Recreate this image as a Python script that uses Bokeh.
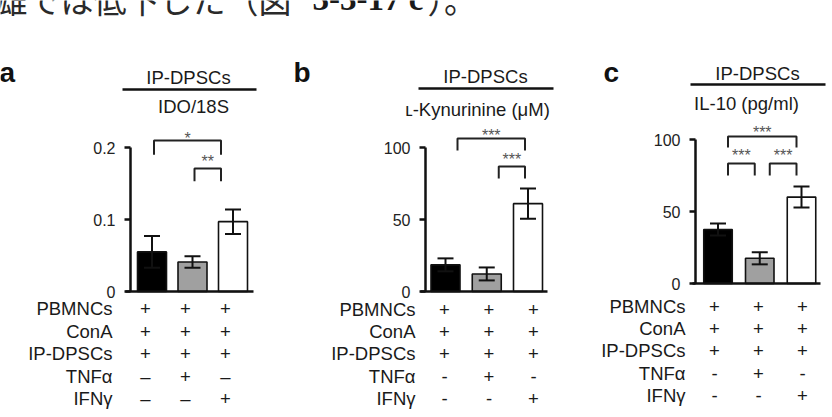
from bokeh.plotting import figure
from bokeh.models import Range1d, LinearAxis, FixedTicker
from bokeh.embed import file_html
from bokeh.resources import INLINE
from bokeh.core.properties import value

# ---------------- data ----------------
row_labels = ["PBMNCs", "ConA", "IP-DPSCs", "TNFα", "IFNγ"]
signs_a = [["+", "+", "+"], ["+", "+", "+"], ["+", "+", "+"], ["–", "+", "–"], ["–", "–", "+"]]
signs_b = [["+", "+", "+"], ["+", "+", "+"], ["+", "+", "+"], ["-", "+", "-"], ["-", "-", "+"]]
signs_c = [["+", "+", "+"], ["+", "+", "+"], ["+", "+", "+"], ["-", "+", "-"], ["-", "-", "+"]]

ido_mean = [0.055, 0.041, 0.097]
ido_err = [0.022, 0.008, 0.017]
kyn_mean = [18.5, 12.2, 61.0]
kyn_err = [4.5, 4.5, 10.5]
il10_mean = [37.5, 17.5, 60.0]
il10_err = [4.2, 4.2, 7.3]

ticks_a = [0, 0.1, 0.2]
tick_labels_a = ["0", "0.1", "0.2"]
ticks_b = [0, 50, 100]
tick_labels_b = ["0", "50", "100"]
ticks_c = [0, 50, 100]
tick_labels_c = ["0", "50", "100"]

# significance brackets: (group i, group j, bracket top, leg end, star level, label)
sig_a = [(0, 2, 0.2097, 0.190, 0.2167, "*"), (1, 2, 0.171, 0.153, 0.185, "**")]
sig_b = [(0, 2, 106.3, 97.9, 110.4, "***"), (1, 2, 86.8, 78.5, 93.8, "***")]
sig_c = [(0, 2, 102.1, 94.4, 107.0, "***"), (0, 1, 83.3, 75.0, 91.0, "***"),
         (1, 2, 83.3, 75.0, 91.0, "***")]

group_label = "IP-DPSCs"
measure_a = "IDO/18S"
measure_b = "ʟ-Kynurinine (μM)"
measure_c = "IL-10 (pg/ml)"
letters = ["a", "b", "c"]
bar_colors = ["#000000", "#a0a0a0", "#ffffff"]

intro_jp = "雄では低下した（図 "
intro_ref = "3-3-17 c"
intro_end = "）。"

# ---------------- layout ----------------
W, H = 832, 417
SANS = value("Liberation Sans")
INK = "#1a1a1a"
FS = "18.5px"

panels = [
    dict(key="a", mean=ido_mean, err=ido_err, ticks=ticks_a, tlabels=tick_labels_a,
         signs=signs_a, sig=sig_a, measure=measure_a, letter=letters[0],
         zero_px=291, ppu=720.0, axis_x=130, top=0.2, bar_x0=151.5, bar_dx=40.5, bar_w=29,
         base=(125, 253), head_cx=188, head_y=76.5, line=(122, 256, 89), sub_cx=193, sub_y=106,
         letter_xy=(-1, 72), label_right=112, sign_x0=145, sign_dx=40, row_y0=308.3,
         br_off=(2, -12)),
    dict(key="b", mean=kyn_mean, err=kyn_err, ticks=ticks_b, tlabels=tick_labels_b,
         signs=signs_b, sig=sig_b, measure=measure_b, letter=letters[1],
         zero_px=291, ppu=1.44, axis_x=425, top=100, bar_x0=445, bar_dx=41.25, bar_w=29,
         base=(420, 547), head_cx=485, head_y=76, line=(418, 553, 88), sub_cx=477, sub_y=109,
         letter_xy=(293, 72), label_right=415, sign_x0=444, sign_dx=44.5, row_y0=308.5,
         br_off=(12, -3)),
    dict(key="c", mean=il10_mean, err=il10_err, ticks=ticks_c, tlabels=tick_labels_c,
         signs=signs_c, sig=sig_c, measure=measure_c, letter=letters[2],
         zero_px=283, ppu=1.44, axis_x=695, top=100, bar_x0=717.5, bar_dx=41.75, bar_w=28.5,
         base=(692, 820), head_cx=757, head_y=73, line=(690, 825, 84), sub_cx=746, sub_y=103,
         letter_xy=(603, 72), label_right=685, sign_x0=714, sign_dx=44, row_y0=305.5,
         br_off=(10, -5)),
]
ROW_DY = 22.4

p = figure(width=W, height=H, x_range=Range1d(0, W), y_range=Range1d(H, 0),
           x_axis_type=None, y_axis_type=None, toolbar_location=None,
           output_backend="svg", min_border=0, outline_line_color=None)
p.background_fill_color = "white"
p.border_fill_color = "white"

# intro line (cut at the top edge, as in the source page)
p.text(x=[-6], y=[-2], text=[intro_jp], text_font=value("Noto Sans CJK JP"),
       text_font_size="33px", text_color="#2a2a2a", text_baseline="middle")
p.text(x=[312], y=[-2], text=[intro_ref], text_font=value("Liberation Serif"),
       text_font_style="bold", text_font_size="33px", text_color="#1a1a1a",
       text_baseline="middle")
p.text(x=[427], y=[-2], text=[intro_end], text_font=value("Noto Sans CJK JP"),
       text_font_size="33px", text_color="#2a2a2a", text_baseline="middle")

for P in panels:
    k = P["key"]
    start = (P["zero_px"] - H) / P["ppu"]
    end = P["zero_px"] / P["ppu"]
    p.extra_y_ranges[k] = Range1d(start, end)

    n = len(P["mean"])
    xs = [P["bar_x0"] + i * P["bar_dx"] for i in range(n)]
    lo = [m - e for m, e in zip(P["mean"], P["err"])]
    hi = [m + e for m, e in zip(P["mean"], P["err"])]

    # bars
    p.vbar(x=xs, width=P["bar_w"], bottom=0, top=P["mean"], fill_color=bar_colors,
           line_color="#111111", line_width=1.6, y_range_name=k)
    # error bars
    cap = 8
    p.segment(x0=xs, y0=lo, x1=xs, y1=hi, line_color="#111111", line_width=2, y_range_name=k)
    p.segment(x0=[x - cap for x in xs], y0=hi, x1=[x + cap for x in xs], y1=hi,
              line_color="#111111", line_width=2, y_range_name=k)
    p.segment(x0=[x - cap for x in xs], y0=lo, x1=[x + cap for x in xs], y1=lo,
              line_color="#111111", line_width=2, y_range_name=k)
    # baseline
    p.segment(x0=[P["base"][0]], y0=[0], x1=[P["base"][1]], y1=[0],
              line_color="#111111", line_width=2.5, y_range_name=k)

    # y axis
    ax = LinearAxis(y_range_name=k, fixed_location=P["axis_x"], bounds=(0, P["top"]),
                    ticker=FixedTicker(ticks=P["ticks"]))
    ax.major_label_overrides = {t: lab for t, lab in zip(P["ticks"], P["tlabels"])}
    ax.axis_line_width = 2.5
    ax.axis_line_color = "#111111"
    ax.major_tick_line_width = 2.5
    ax.major_tick_line_color = "#111111"
    ax.major_tick_out = 6
    ax.major_tick_in = 0
    ax.minor_tick_out = 0
    ax.minor_tick_in = 0
    ax.major_label_standoff = 9
    ax.major_label_text_font = "Liberation Sans"
    ax.major_label_text_font_size = "16px"
    ax.major_label_text_color = "#222222"
    p.add_layout(ax, "left")

    # significance brackets
    lo_off, hi_off = P["br_off"]
    for (i, j, ytop, yleg, ystar, lab) in P["sig"]:
        xl = xs[i] + lo_off
        xr = xs[j] + hi_off
        p.line(x=[xl, xl, xr, xr], y=[yleg, ytop, ytop, yleg], line_color="#222222",
               line_width=2, y_range_name=k)
        p.text(x=[(xl + xr) / 2], y=[ystar], text=[lab], text_font=SANS,
               text_font_size="16px", text_color="#555555", text_align="center",
               text_baseline="middle", y_offset=3, y_range_name=k)

    # headers
    p.text(x=[P["head_cx"]], y=[P["head_y"]], text=[group_label], text_font=SANS,
           text_font_size=FS, text_color=INK, text_align="center",
           text_baseline="middle")
    x0, x1, yl = P["line"]
    p.segment(x0=[x0], y0=[yl], x1=[x1], y1=[yl], line_color="#111111", line_width=2.5)
    p.text(x=[P["sub_cx"]], y=[P["sub_y"]], text=[P["measure"]], text_font=SANS,
           text_font_size=FS, text_color=INK, text_align="center",
           text_baseline="middle")
    lx, ly = P["letter_xy"]
    p.text(x=[lx], y=[ly], text=[P["letter"]], text_font=SANS, text_font_style="bold",
           text_font_size="28px", text_color="#111111", text_baseline="middle")

    # condition table
    ry = [P["row_y0"] + r * ROW_DY for r in range(len(row_labels))]
    p.text(x=[P["label_right"]] * len(row_labels), y=ry, text=row_labels, text_font=SANS,
           text_font_size=FS, text_color=INK, text_align="right",
           text_baseline="middle")
    sx, sy, st = [], [], []
    for r, row in enumerate(P["signs"]):
        for c, s in enumerate(row):
            sx.append(P["sign_x0"] + c * P["sign_dx"])
            sy.append(ry[r])
            st.append(s)
    p.text(x=sx, y=sy, text=st, text_font=SANS, text_font_size=FS, text_color=INK,
           text_align="center", text_baseline="middle")

open("out.html", "w").write(file_html(p, INLINE))
